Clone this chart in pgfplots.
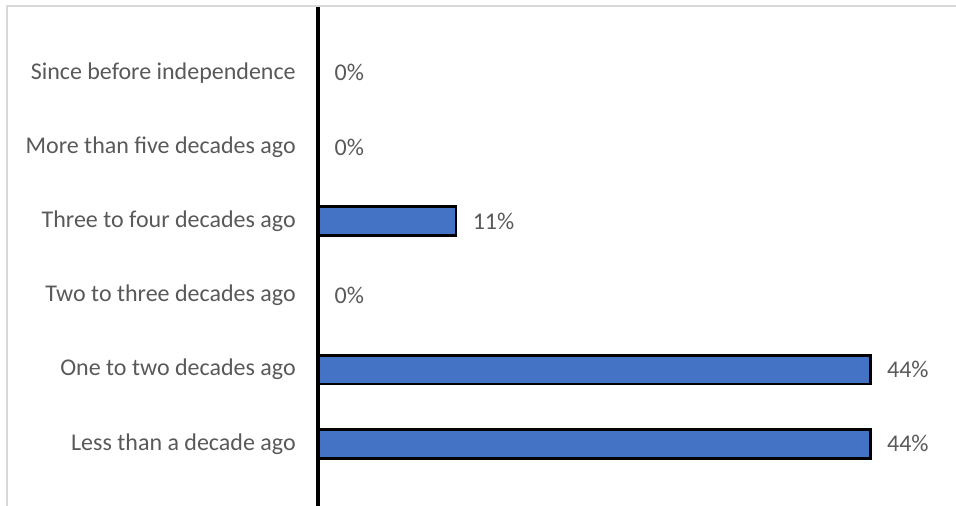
\documentclass[border=0pt]{standalone}
\usepackage{pgfplots}
\pgfplotsset{compat=1.18}
\usepackage{fontspec}
\setmainfont{Carlito}
\definecolor{barblue}{HTML}{4472C4}
\definecolor{txt}{HTML}{595959}
\definecolor{framegray}{HTML}{D9D9D9}
\begin{document}
\begin{tikzpicture}[x=0.75pt,y=0.75pt]
\useasboundingbox (0,0) rectangle (956,506);
\draw[framegray, line width=1.75pt] (7,-5) -- (7,500) -- (962,500);
\begin{axis}[
  at={(238.5pt,0pt)}, anchor=south west,
  scale only axis,
  width=466.1pt, height=374.25pt,
  xmin=0, xmax=50,
  ymin=-0.838, ymax=5.887,
  enlargelimits=false,
  clip=false,
  axis on top,
  xbar, bar width=21.5pt,
  axis x line=none,
  axis y line*=left,
  y axis line style={line width=2.4pt, black, -},
  xtick=\empty,
  ytick={0,1,2,3,4,5},
  yticklabels={Less than a decade ago, One to two decades ago, Two to three decades ago, Three to four decades ago, More than five decades ago, Since before independence},
  major tick length=0pt,
  yticklabel style={anchor=east, inner sep=0pt, xshift=-16.5pt, font=\fontsize{18pt}{21.6pt}\selectfont, text=txt},
  /pgf/number format/assume math mode=true,
  nodes near coords={\pgfmathprintnumber[fixed,precision=0,assume math mode=true]{\pgfplotspointmeta}\%},
  every node near coord/.append style={anchor=west, inner sep=0pt, xshift=11.5pt, font=\fontsize{18pt}{21.6pt}\selectfont, text=txt},
]
\addplot[fill=barblue, draw=black, line width=2.1pt] coordinates {
  (44.44,0) (44.44,1) (0,2) (11.11,3) (0,4) (0,5)
};
\end{axis}
\end{tikzpicture}
\end{document}
